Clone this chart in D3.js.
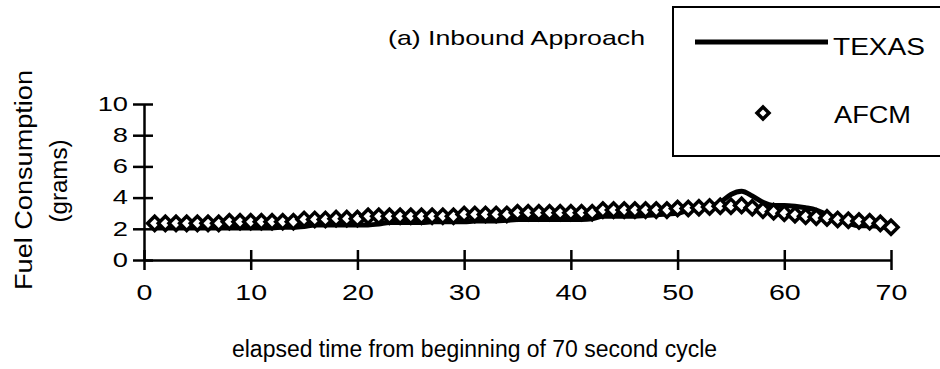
<!DOCTYPE html>
<html><head><meta charset="utf-8">
<script src="https://cdn.jsdelivr.net/npm/d3@7"></script>
<style>
html,body{margin:0;padding:0;background:#fff;}
svg{display:block;font-family:"Liberation Sans",Arial,Helvetica,sans-serif;}
</style></head>
<body>
<svg id="chart" width="940" height="369"></svg>
<script>
// ---- data ----
const seconds = d3.range(1, 71);
const texas = [
  2.05,2.05,2.05,2.05,2.05,2.05,2.05,2.05,2.05,2.05,
  2.05,2.05,2.1,2.1,2.15,2.25,2.25,2.25,2.25,2.25,
  2.25,2.3,2.4,2.4,2.4,2.4,2.45,2.45,2.45,2.45,
  2.5,2.5,2.5,2.55,2.6,2.6,2.6,2.6,2.6,2.6,
  2.6,2.65,2.8,2.8,2.8,2.8,2.85,2.9,2.95,3.0,
  3.2,3.3,3.4,3.7,4.2,4.4,4.1,3.7,3.5,3.5,
  3.45,3.35,3.2,2.9,2.6,2.35,2.2,2.2,2.15,2.0
];
const afcm = [
  2.35,2.35,2.35,2.35,2.35,2.35,2.35,2.45,2.45,2.45,
  2.45,2.45,2.45,2.45,2.6,2.6,2.6,2.65,2.65,2.65,
  2.8,2.8,2.8,2.8,2.8,2.8,2.8,2.8,2.8,2.92,
  2.92,2.92,2.92,2.92,3.03,3.03,3.03,3.03,3.03,3.03,
  3.03,3.03,3.2,3.2,3.2,3.2,3.2,3.2,3.2,3.3,
  3.3,3.35,3.4,3.45,3.45,3.5,3.35,3.2,3.1,3.0,
  2.9,2.8,2.75,2.7,2.6,2.55,2.5,2.45,2.35,2.1
];
const xTicks = [0,10,20,30,40,50,60,70];
const yTicks = [0,2,4,6,8,10];
const seriesNames = ["TEXAS","AFCM"];
const titleText = "(a) Inbound Approach";
const xTitle = "elapsed time from beginning of 70 second cycle";
const yTitle1 = "Fuel Consumption";
const yTitle2 = "(grams)";

// ---- drawing ----
const svg = d3.select("#chart");
const x = d3.scaleLinear().domain([0,70]).range([144,891]);
const y = d3.scaleLinear().domain([0,10]).range([260,104]);
const SX = 1.3;

// Y axis
const gy = svg.append("g").attr("transform","translate(144,0)")
  .call(d3.axisLeft(y).tickValues(yTicks).tickSizeInner(11).tickSizeOuter(0).tickPadding(16));
gy.select(".domain").attr("stroke","#000").attr("stroke-width",2.5);
gy.selectAll(".tick line").attr("x1",9).attr("x2",-11).attr("stroke","#000").attr("stroke-width",2.5);
gy.selectAll(".tick text")
  .attr("font-size",21).attr("fill","#000")
  .attr("font-family","Liberation Sans, Arial, sans-serif")
  .attr("x",-16/SX).attr("transform",`scale(${SX},1)`).attr("dy","0.3em");

// X axis
const gx = svg.append("g").attr("transform","translate(0,260)")
  .call(d3.axisBottom(x).tickValues(xTicks).tickSizeInner(10).tickSizeOuter(0).tickPadding(14));
gx.select(".domain").attr("stroke","#000").attr("stroke-width",2.5);
gx.selectAll(".tick line").attr("y1",-10).attr("y2",10).attr("stroke","#000").attr("stroke-width",2.5);
gx.selectAll(".tick text")
  .attr("font-size",22).attr("fill","#000")
  .attr("font-family","Liberation Sans, Arial, sans-serif")
  .attr("transform",`scale(${SX},1)`).attr("y",24).attr("dy","0.71em");

// Texas line
const line = d3.line().x((d,i)=>x(seconds[i])).y(d=>y(d)).curve(d3.curveMonotoneX);
svg.append("path").datum(texas).attr("d",line)
  .attr("fill","none").attr("stroke","#000").attr("stroke-width",5).attr("stroke-linejoin","round");

// AFCM diamonds
const diamond = d3.symbol().type(d3.symbolSquare).size(100);
svg.append("g").selectAll("path").data(afcm).join("path")
  .attr("d",diamond())
  .attr("transform",(d,i)=>`translate(${x(seconds[i])},${y(d)}) rotate(45)`)
  .attr("fill","#fff").attr("stroke","#000").attr("stroke-width",3.5);

// Title
svg.append("text").attr("x",388).attr("y",45).attr("font-size",21)
  .attr("textLength",257).attr("lengthAdjust","spacingAndGlyphs").text(titleText);

// Legend
const lg = svg.append("g");
lg.append("rect").attr("x",673).attr("y",7).attr("width",280).attr("height",149)
  .attr("fill","none").attr("stroke","#000").attr("stroke-width",2);
lg.append("line").attr("x1",695).attr("x2",828).attr("y1",42).attr("y2",42)
  .attr("stroke","#000").attr("stroke-width",5);
lg.append("text").attr("x",833).attr("y",55).attr("font-size",24)
  .attr("textLength",92).attr("lengthAdjust","spacingAndGlyphs").text(seriesNames[0]);
lg.append("path").attr("d",d3.symbol().type(d3.symbolSquare).size(72)()).attr("transform","translate(763,113) rotate(45)")
  .attr("fill","#fff").attr("stroke","#000").attr("stroke-width",3.5);
lg.append("text").attr("x",834).attr("y",123).attr("font-size",24)
  .attr("textLength",77).attr("lengthAdjust","spacingAndGlyphs").text(seriesNames[1]);

// Axis titles
svg.append("text").attr("x",232).attr("y",357).attr("font-size",23)
  .attr("textLength",485).attr("lengthAdjust","spacingAndGlyphs").text(xTitle);
svg.append("text").attr("transform","translate(32,180) rotate(-90)")
  .attr("text-anchor","middle").attr("font-size",23)
  .attr("textLength",220).attr("lengthAdjust","spacingAndGlyphs").text(yTitle1);
svg.append("text").attr("transform","translate(67,181) rotate(-90)")
  .attr("text-anchor","middle").attr("font-size",23)
  .attr("textLength",83).attr("lengthAdjust","spacingAndGlyphs").text(yTitle2);
</script>
</body></html>
